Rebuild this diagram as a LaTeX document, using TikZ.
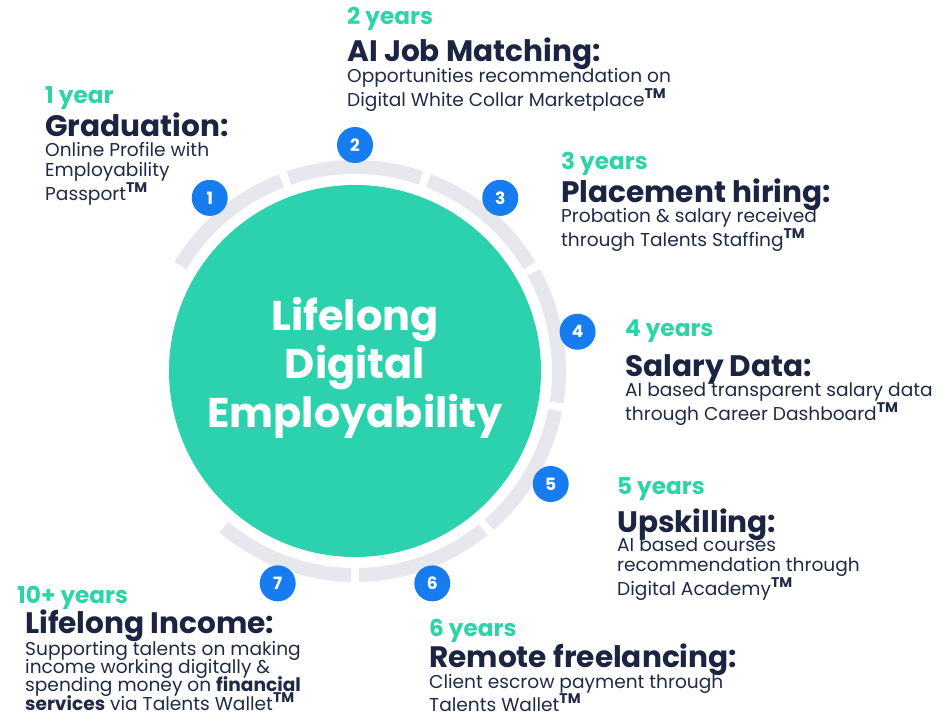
\documentclass[tikz,border=0pt]{standalone}
\usepackage{fontspec}
\setmainfont{Poppins}
\definecolor{ringgreen}{RGB}{44,209,173}
\definecolor{yrgreen}{RGB}{45,212,168}
\definecolor{navy}{RGB}{27,36,64}
\definecolor{desc}{RGB}{32,42,70}
\definecolor{stepblue}{RGB}{22,124,240}
\definecolor{ringgray}{RGB}{230,232,238}
\newcommand\tmark{\raisebox{0.42em}{\fontsize{14}{14}\selectfont\bfseries TM}}
\tikzset{
  yr/.style={anchor=base west, inner sep=0pt, text=yrgreen, font=\fontsize{23.2}{23.2}\selectfont\bfseries},
  ttl/.style={anchor=base west, inner sep=0pt, text=navy, font=\fontsize{29.6}{29.6}\selectfont\bfseries},
  dsc/.style={anchor=base west, inner sep=0pt, text=desc, font=\fontsize{18.6}{20}\selectfont},
  numdot/.style={circle, fill=stepblue, minimum size=36pt, inner sep=0pt, text=white, font=\fontsize{17}{17}\selectfont\bfseries},
  ringseg/.style={draw=ringgray, line width=14pt},
}
\begin{document}
\begin{tikzpicture}[x=1pt,y=1pt]
\useasboundingbox (0,0) rectangle (952,717);
\begin{scope}[shift={(355,346)}]
  \node[circle, fill=ringgreen, minimum size=372pt, inner sep=0pt] (core) at (0,0) {};
  \foreach \a/\b in {148.9/111.1, 108.9/71.1, 68.9/31.1, 28.9/-8.9, -11.1/-48.9, -51.1/-88.9, -91.1/-130}
    \draw[ringseg] (\a:204) arc[start angle=\a, end angle=\b, radius=204];
  \node[numdot] (n1) at (130:226) {1};
  \node[numdot] (n2) at (90:226) {2};
  \node[numdot] (n3) at (50:226) {3};
  \node[numdot] (n4) at (10:226) {4};
  \node[numdot] (n5) at (-30:226) {5};
  \node[numdot] (n6) at (-70:226) {6};
  \node[numdot] (n7) at (-110:226) {7};
\end{scope}
\node[text=white, align=center, font=\fontsize{41.5}{48.5}\selectfont\bfseries] (core text) at (355,349.5) {Lifelong\\Digital\\Employability};
% block 1
\node[yr] (y1) at (45,613) {1 year};
\node[ttl] (t1) at (45,580) {Graduation:};
\node[dsc] (d1) at (45,560) {\vtop{\hbox{Online Profile with}\hbox{Employability}\hbox{Passport\tmark}}};
% block 2
\node[yr] (y2) at (347,692) {2 years};
\node[ttl] (t2) at (347,655) {AI Job Matching:};
\node[dsc] (d2) at (347,634) {\vtop{\hbox{Opportunities recommendation on}\hbox{Digital White Collar Marketplace\tmark}}};
% block 3
\node[yr] (y3) at (561,547) {3 years};
\node[ttl] (t3) at (561,514) {Placement hiring:};
\node[dsc] (d3) at (561,494) {\vtop{\hbox{Probation \& salary received}\hbox{through Talents Staffing\tmark}}};
% block 4
\node[yr] (y4) at (625,380) {4 years};
\node[ttl] (t4) at (625,340) {Salary Data:};
\node[dsc] (d4) at (625,320) {\vtop{\hbox{AI based transparent salary data}\hbox{through Career Dashboard\tmark}}};
% block 5
\node[yr] (y5) at (617,222) {5 years};
\node[ttl] (t5) at (617,184) {Upskilling:};
\node[dsc] (d5) at (617,165) {\vtop{\hbox{AI based courses}\hbox{recommendation through}\hbox{Digital Academy\tmark}}};
% block 6
\node[yr] (y6) at (429,81) {6 years};
\node[ttl] (t6) at (429,49) {Remote freelancing:};
\node[dsc] (d6) at (429,29) {\vtop{\hbox{Client escrow payment through}\hbox{Talents Wallet\tmark}}};
% block 7
\node[yr] (y7) at (17,113) {10+ years};
\node[ttl] (t7) at (25,83) {Lifelong Income:};
\node[dsc] (d7) at (25,62) {\vtop{\baselineskip=18.4pt\lineskiplimit=-10pt\hbox{Supporting talents on making}\hbox{income working digitally \&}\hbox{spending money on \textbf{financial}}\hbox{\textbf{services} via Talents Wallet\tmark}}};
\end{tikzpicture}
\end{document}
